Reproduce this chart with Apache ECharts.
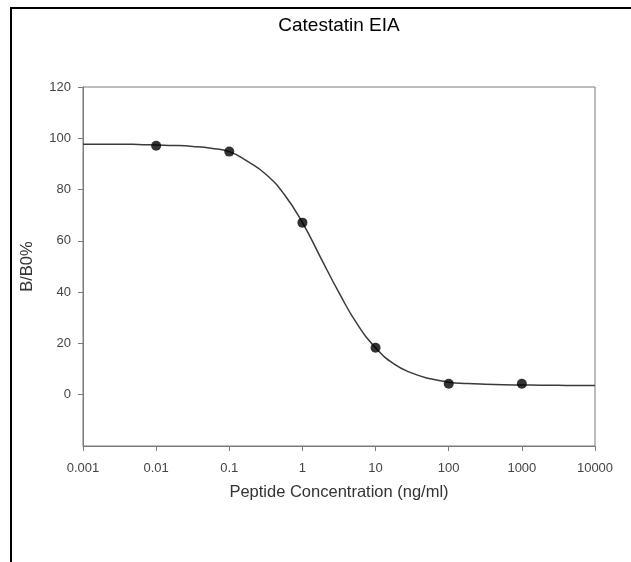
<!DOCTYPE html>
<html>
<head>
<meta charset="utf-8">
<script src="https://cdn.jsdelivr.net/npm/echarts@6/dist/echarts.min.js"></script>
<style>html,body{margin:0;padding:0;background:#fff;}#c{width:631px;height:562px;}</style>
</head>
<body>
<div id="c"></div>
<script>
// measured data points
var concentrations = [0.01, 0.1, 1, 10, 100, 1000];
var bb0 = [97.1, 94.8, 67.1, 18.3, 4.3, 4.3];
// fitted curve (quarter-decade steps)
var curveX = [0.001, 0.00178, 0.00316, 0.00562, 0.01, 0.0178, 0.0316, 0.0562, 0.1, 0.178, 0.316, 0.562, 1, 1.78, 3.16, 5.62, 10, 17.8, 31.6, 56.2, 100, 178, 316, 562, 1000, 1778, 3162, 5623, 10000];
var curveY = [97.7, 97.7, 97.7, 97.6, 97.4, 97.2, 96.8, 96.1, 94.8, 91.0, 86.0, 78.2, 67.1, 53.4, 39.8, 27.5, 18.3, 12.0, 8.4, 6.2, 4.9, 4.4, 4.1, 3.9, 3.8, 3.7, 3.65, 3.6, 3.6];
var xTickLabels = ['0.001', '0.01', '0.1', '1', '10', '100', '1000', '10000'];
var yTickValues = [0, 20, 40, 60, 80, 100, 120];

var chart = echarts.init(document.getElementById('c'), null, {renderer: 'canvas'});
var font = 'Liberation Sans, Arial, sans-serif';
var axisGrey = '#7a7a7a';
chart.setOption({
  animation: false,
  backgroundColor: '#fff',
  title: {
    text: 'Catestatin EIA', left: 339, top: 16, padding: 0, textAlign: 'center',
    textStyle: {fontFamily: font, fontSize: 19, fontWeight: 'normal', color: '#000'}
  },
  graphic: [
    {type: 'line', shape: {x1: 10, y1: 8, x2: 631, y2: 8}, style: {stroke: '#000', lineWidth: 2}},
    {type: 'line', shape: {x1: 11, y1: 7, x2: 11, y2: 562}, style: {stroke: '#000', lineWidth: 2}}
  ],
  grid: {left: 83, right: 36, top: 87, bottom: 116, show: true, borderColor: axisGrey, borderWidth: 1, backgroundColor: 'transparent'},
  xAxis: {
    type: 'log', logBase: 10, min: 0.001, max: 10000, interval: 1,
    name: 'Peptide Concentration (ng/ml)', nameLocation: 'middle', nameGap: 38,
    nameTextStyle: {fontFamily: font, fontSize: 16.5, color: '#333'},
    axisLine: {onZero: false, lineStyle: {color: axisGrey}},
    axisTick: {show: true, length: 5, lineStyle: {color: axisGrey}},
    axisLabel: {
      fontFamily: font, fontSize: 13, color: '#444', margin: 16,
      formatter: function (v) {
        var i = Math.round(Math.log10(v)) + 3;
        return xTickLabels[i] !== undefined ? xTickLabels[i] : '';
      }
    },
    splitLine: {show: false}, minorTick: {show: false}
  },
  yAxis: {
    type: 'value', min: -20, max: 120, interval: 20,
    name: 'B/B0%', nameLocation: 'middle', nameGap: 47,
    nameTextStyle: {fontFamily: font, fontSize: 16.5, color: '#333'},
    axisLine: {show: true, onZero: false, lineStyle: {color: axisGrey}},
    axisTick: {show: true, length: 5, lineStyle: {color: axisGrey}, customValues: yTickValues},
    axisLabel: {fontFamily: font, fontSize: 13, color: '#444', margin: 12, customValues: yTickValues},
    splitLine: {show: false}
  },
  series: [
    {
      type: 'line', smooth: true, showSymbol: false, symbol: 'none',
      data: curveX.map(function (x, i) { return [x, curveY[i]]; }),
      lineStyle: {color: '#3a3a3a', width: 1.5}, z: 2
    },
    {
      type: 'scatter', symbol: 'circle', symbolSize: 10,
      data: concentrations.map(function (x, i) { return [x, bb0[i]]; }),
      itemStyle: {color: '#000'}, z: 3
    }
  ]
});
</script>
</body>
</html>
